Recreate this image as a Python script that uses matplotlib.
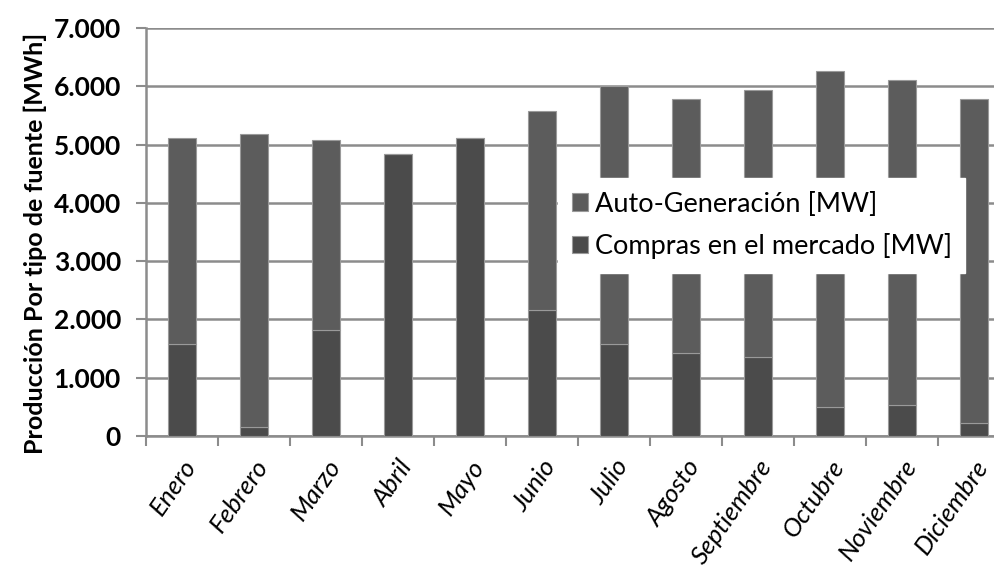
import matplotlib
matplotlib.use("Agg")
import matplotlib.pyplot as plt
from matplotlib.ticker import FuncFormatter, FixedLocator
import numpy as np

meses = ["Enero", "Febrero", "Marzo", "Abril", "Mayo", "Junio", "Julio",
         "Agosto", "Septiembre", "Octubre", "Noviembre", "Diciembre"]
compras = [1580, 160, 1820, 4840, 5120, 2160, 1580, 1420, 1360, 500, 530, 220]
totales = [5120, 5180, 5070, 4840, 5120, 5580, 6000, 5790, 5940, 6260, 6110, 5790]
autogen = [t - c for t, c in zip(totales, compras)]
serie_labels = ["Auto-Generación [MW]", "Compras en el mercado [MW]"]
ylabel = "Producción Por tipo de fuente [MWh]"

plt.rcParams['font.family'] = ['Lato', 'DejaVu Sans']

fig = plt.figure(figsize=(9.95, 5.73), dpi=100)
ax = fig.add_axes([146/995, 1 - 436/573, (995-146)/995, (436-28)/573])

x = np.arange(len(meses))
w = 0.38
b1 = ax.bar(x, compras, w, color="#4b4b4b", edgecolor="#9a9a9a", linewidth=0.8,
            label=serie_labels[1], zorder=3)
b2 = ax.bar(x, autogen, w, bottom=compras, color="#5c5c5c", edgecolor="#9a9a9a",
            linewidth=0.8, label=serie_labels[0], zorder=3)

ax.set_ylim(0, 7000)
ax.set_xlim(-0.5, -0.5 + (995-146)/72.0)
ax.set_yticks(np.arange(0, 7001, 1000))
ax.yaxis.set_major_formatter(FuncFormatter(lambda v, p: f"{int(v):,}".replace(",", ".")))
ax.yaxis.grid(True, color="#8c8c8c", linewidth=1.8, zorder=0)
ax.set_axisbelow(True)

ax.set_xticks(x)
ax.set_xticklabels(meses, rotation=55, ha="right", va="top", rotation_mode="anchor",
                   fontsize=18.5, style="italic", color="black")
ax.tick_params(axis="x", which="major", length=0, pad=14)
ax.xaxis.set_minor_locator(FixedLocator(np.arange(-0.5, 12, 1.0)))
ax.tick_params(axis="x", which="minor", length=7, width=1.5, color="#8c8c8c")
ax.tick_params(axis="y", length=7, width=1.5, color="#8c8c8c", labelsize=19, pad=11,
               labelcolor="black")
for lab in ax.get_yticklabels():
    lab.set_fontweight("bold")

for s in ["top", "right"]:
    ax.spines[s].set_visible(False)
for s in ["left", "bottom"]:
    ax.spines[s].set_color("#8c8c8c")
    ax.spines[s].set_linewidth(1.8)

ax.set_ylabel(ylabel, fontsize=18, fontweight="bold", color="black")
ax.yaxis.set_label_coords(-(146-47)/849, (436-243)/408)

handles = [b2, b1]
leg = ax.legend(handles, serie_labels, loc="upper left",
                bbox_to_anchor=((558-146)/849, (436-178)/408),
                frameon=True, fancybox=False, framealpha=1.0, edgecolor="white",
                fontsize=19.5, handlelength=0.6, handleheight=0.6, handletextpad=0.25,
                borderpad=0.5, labelspacing=0.62, borderaxespad=0)
leg.set_zorder(5)

fig.savefig("out.png", dpi=100)
